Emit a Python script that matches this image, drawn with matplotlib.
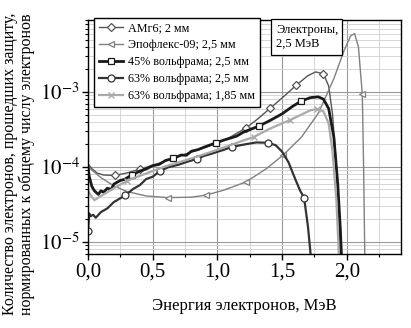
# ---  IMPORTS  --- #
import numpy as np
import matplotlib
matplotlib.use('Agg')
import matplotlib.pyplot as plt
from matplotlib.ticker import FixedLocator, LogLocator, NullFormatter


# ---  DATA  --- #
# АМг6; 2 мм
amg_x = [0, 0.03, 0.07, 0.12, 0.21, 0.3, 0.4, 0.5, 0.6, 0.7, 0.8, 0.9, 1.0,
         1.1, 1.22, 1.3, 1.41, 1.5, 1.61, 1.7, 1.76, 1.82, 1.86, 1.89, 1.92,
         1.94, 1.95]
amg_y = [1.1e-4, 9.5e-5, 8.3e-5, 7.8e-5, 7.7e-5, 8.3e-5, 9.3e-5, 1.05e-4,
         1.2e-4, 1.38e-4, 1.58e-4, 1.8e-4, 2.08e-4, 2.5e-4, 3.3e-4, 4.2e-4,
         6.1e-4, 8.3e-4, 1.23e-3, 1.65e-3, 1.85e-3, 1.74e-3, 1.2e-3, 5e-4,
         1e-4, 2e-5, 6e-6]
amg_marks = [4, 6, 14, 16, 18, 21]

# Эпофлекс-09; 2,5 мм
epo_x = [0, 0.05, 0.1, 0.2, 0.3, 0.45, 0.62, 0.8, 0.91, 1.05, 1.22, 1.38,
         1.51, 1.65, 1.78, 1.9, 1.98, 2.03, 2.06, 2.09, 2.12, 2.13, 2.14]
epo_y = [1.0e-4, 8.5e-5, 7.2e-5, 5.6e-5, 4.7e-5, 4.1e-5, 3.9e-5, 3.95e-5,
         4.2e-5, 4.9e-5, 6.3e-5, 9.5e-5, 1.45e-4, 2.5e-4, 5.2e-4, 1.5e-3,
         3.6e-3, 5.6e-3, 6.0e-3, 4.0e-3, 9.3e-4, 1e-4, 5e-6]
epo_marks = [6, 8, 10, 12, 20]

# 45% вольфрама; 2,5 мм
w45_x = [0, 0.01, 0.03, 0.05, 0.08, 0.1, 0.12, 0.15, 0.18, 0.2, 0.25, 0.28,
         0.34, 0.4, 0.45, 0.5, 0.55, 0.6, 0.66, 0.72, 0.76, 0.8, 0.85, 0.9,
         0.99, 1.05, 1.1, 1.15, 1.2, 1.32, 1.4, 1.5, 1.58, 1.65, 1.72, 1.78,
         1.82, 1.86, 1.9, 1.93, 1.95, 1.96]
w45_y = [1.0e-4, 7.5e-5, 5.5e-5, 4.8e-5, 4.3e-5, 4.8e-5, 4.6e-5, 5.2e-5,
         5.0e-5, 5.9e-5, 6.6e-5, 6.8e-5, 7.8e-5, 8.8e-5, 9.4e-5, 1.04e-4,
         1.08e-4, 1.22e-4, 1.3e-4, 1.44e-4, 1.43e-4, 1.62e-4, 1.7e-4, 1.84e-4,
         2.1e-4, 2.28e-4, 2.42e-4, 2.58e-4, 2.9e-4, 3.5e-4, 4.1e-4, 5.1e-4,
         6.4e-4, 7.6e-4, 8.4e-4, 8.6e-4, 8.0e-4, 6.0e-4, 2.5e-4, 6e-5,
         1.5e-5, 6e-6]
w45_marks = [12, 18, 24, 29, 33]

# 63% вольфрама; 2,5 мм
w63_x = [0, 0.01, 0.02, 0.04, 0.06, 0.1, 0.15, 0.2, 0.29, 0.35, 0.4, 0.45,
         0.5, 0.56, 0.62, 0.7, 0.76, 0.84, 0.9, 0.95, 1.0, 1.05, 1.11, 1.2,
         1.3, 1.39, 1.45, 1.5, 1.55, 1.6, 1.64, 1.67, 1.7, 1.72]
w63_y = [1.4e-5, 2.4e-5, 2.2e-5, 2.3e-5, 2.1e-5, 2.5e-5, 2.8e-5, 3.4e-5,
         4.2e-5, 5.1e-5, 5.7e-5, 6.9e-5, 7.4e-5, 8.9e-5, 9.9e-5, 1.07e-4,
         1.16e-4, 1.28e-4, 1.41e-4, 1.49e-4, 1.59e-4, 1.69e-4, 1.85e-4,
         1.98e-4, 2.12e-4, 2.1e-4, 1.95e-4, 1.6e-4, 1.15e-4, 7e-5, 4.8e-5,
         3.9e-5, 1.6e-5, 7e-6]
w63_marks = [0, 8, 13, 17, 22, 25, 31]

# 63% вольфрама; 1,85 мм
w63t_x = [0, 0.02, 0.05, 0.08, 0.12, 0.2, 0.3, 0.4, 0.5, 0.6, 0.7, 0.8,
          0.9, 1.0, 1.1, 1.2, 1.28, 1.4, 1.5, 1.56, 1.65, 1.72, 1.77, 1.82,
          1.86, 1.89, 1.92, 1.94]
w63t_y = [4.9e-5, 4.2e-5, 3.6e-5, 3.9e-5, 4.3e-5, 5.2e-5, 6.5e-5, 7.6e-5,
          8.8e-5, 1.02e-4, 1.15e-4, 1.3e-4, 1.48e-4, 1.7e-4, 1.95e-4,
          2.25e-4, 2.5e-4, 3.2e-4, 3.8e-4, 4.2e-4, 5.0e-4, 5.7e-4, 5.9e-4,
          5.5e-4, 3.8e-4, 1.6e-4, 3.5e-5, 6e-6]
w63t_marks = [6, 16, 19, 22]

labels = ['АМг6; 2 мм', 'Эпофлекс-09; 2,5 мм', '45% вольфрама; 2,5 мм',
          '63% вольфрама; 2,5 мм', '63% вольфрама; 1,85 мм']

x_ticks = [0, 0.5, 1.0, 1.5, 2.0]
x_tick_labels = ['0,0', '0,5', '1,0', '1,5', '2,0']
y_ticks = [1e-5, 1e-4, 1e-3]
y_tick_labels = [r'$10^{-5}$', r'$10^{-4}$', r'$10^{-3}$']


# ---   MAIN   --- #
if __name__ == '__main__':
    plt.rcParams['font.family'] = ['Liberation Serif', 'DejaVu Serif']
    plt.rcParams['mathtext.fontset'] = 'stix'
    fig = plt.figure(figsize=(4.11, 3.28), dpi=100)
    ax = fig.add_axes([0.214, 0.2256, 0.762, 0.7134])

    mk = dict(markerfacecolor='white', markersize=5, markeredgewidth=0.9)
    ax.plot(amg_x, amg_y, color='#555555', lw=1.0, marker='D',
            markevery=amg_marks, label=labels[0], **dict(mk, markersize=4))
    ax.plot(epo_x, epo_y, color='#808080', lw=1.0, marker='<',
            markevery=epo_marks, label=labels[1], **mk)
    ax.plot(w45_x, w45_y, color='#1a1a1a', lw=2.0, marker='s',
            markevery=w45_marks, label=labels[2], **mk)
    ax.plot(w63_x, w63_y, color='#333333', lw=1.6, marker='o',
            markevery=w63_marks, label=labels[3], markersize=5,
            markerfacecolor='white', markeredgewidth=0.9)
    ax.plot(w63t_x, w63t_y, color='#aaaaaa', lw=1.6, marker='x',
            markevery=w63t_marks, label=labels[4], markersize=5,
            markeredgewidth=1.0)

    ax.set_yscale('log')
    ax.set_xlim(0, 2.42)
    ax.set_ylim(6.9e-6, 9.1e-3)
    ax.xaxis.set_major_locator(FixedLocator(x_ticks))
    ax.set_xticklabels(x_tick_labels)
    ax.xaxis.set_minor_locator(FixedLocator(np.arange(0.25, 2.4, 0.5)))
    ax.yaxis.set_major_locator(FixedLocator(y_ticks))
    ax.set_yticklabels(y_tick_labels)
    ax.yaxis.set_minor_locator(LogLocator(base=10, subs=np.arange(2, 10)))
    ax.yaxis.set_minor_formatter(NullFormatter())
    ax.tick_params(axis='both', which='major', labelsize=15, length=4,
                   width=1, pad=2)
    ax.tick_params(axis='both', which='minor', length=2.5, width=0.8)
    ax.grid(which='major', color='#999999', lw=0.8)
    ax.grid(which='minor', color='#d0d0d0', lw=0.6)
    ax.set_axisbelow(True)
    for s in ax.spines.values():
        s.set_linewidth(1.0)

    ax.set_xlabel('Энергия электронов, МэВ', fontsize=12, labelpad=12)
    fig.text(0.005, 0.5, 'Количество электронов, прошедших защиту,\n'
             'нормированных к общему числу электронов', rotation=90,
             ha='left', va='center', fontsize=11.5, linespacing=1.05)

    leg = ax.legend(loc='upper left', bbox_to_anchor=(0.02, 1.01),
                    fontsize=8.7, frameon=True, fancybox=False,
                    edgecolor='black', framealpha=1, handlelength=2.0,
                    borderpad=0.4, labelspacing=0.4, handletextpad=0.4,
                    borderaxespad=0)
    leg.get_frame().set_linewidth(1.0)

    ax.text(0.6, 0.985, 'Электроны,\n2,5 МэВ', transform=ax.transAxes,
            ha='left', va='top', fontsize=9, linespacing=1.3,
            bbox=dict(boxstyle='square,pad=0.35', fc='white', ec='black',
                      lw=0.9))

    plt.savefig('out.png', dpi=100)
